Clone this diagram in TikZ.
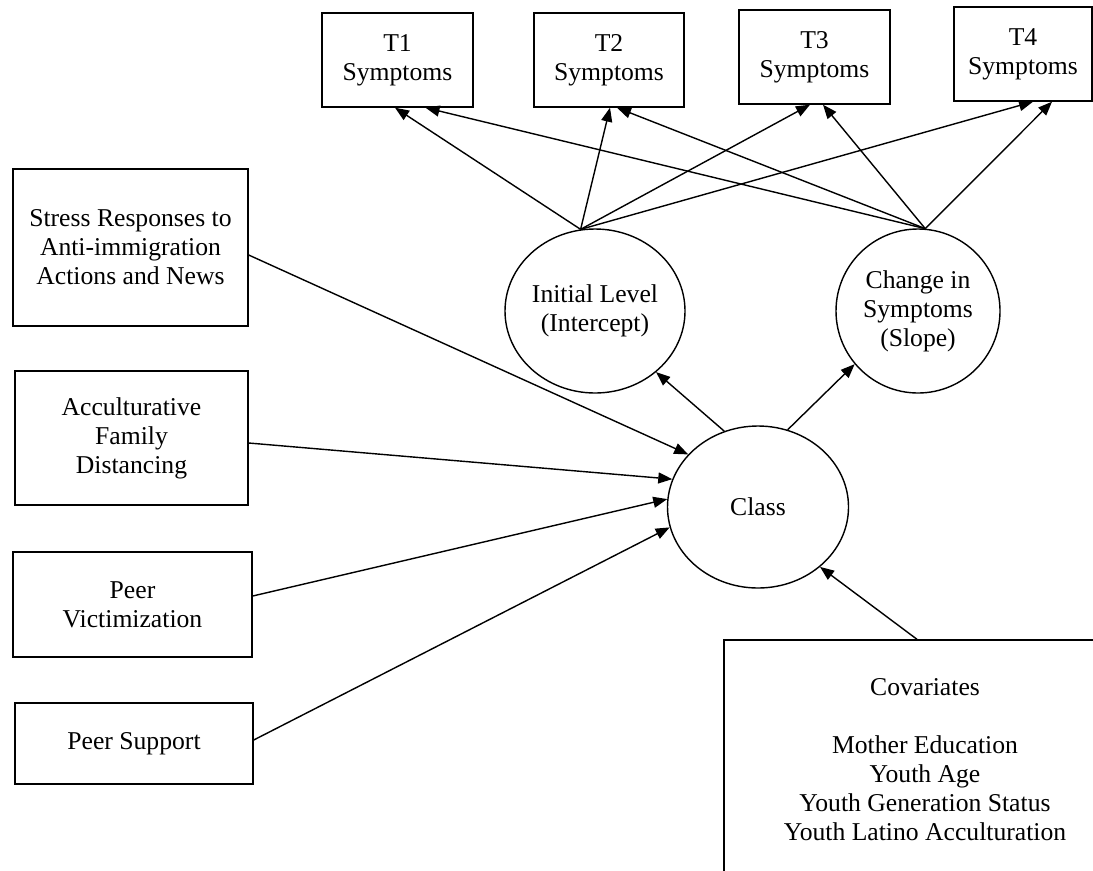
\documentclass[tikz,border=0pt]{standalone}
\usepackage{fontspec}
\setmainfont{Liberation Serif}
\usepackage{xcolor}
\usepackage{tikz}
\usetikzlibrary{arrows.meta,shapes.geometric}
\tikzset{
  sbox/.style={draw, line width=0.8pt, rectangle, align=center, inner sep=0pt, font=\fontsize{14.6}{16.5}\selectfont},
  latent/.style={draw, line width=0.8pt, ellipse, align=center, inner sep=0pt, font=\fontsize{14.6}{16.5}\selectfont},
  link/.style={line width=0.8pt, -{Triangle[length=0.28cm,width=0.22cm]}}
}

\begin{document}
\begin{tikzpicture}%
\useasboundingbox (0,0) rectangle (21.86,-17.40);%
% repeated measures
\node[sbox, minimum width=3.02cm, minimum height=1.88cm] (T1) at (7.95,-1.20) {T1\\Symptoms};%
\node[sbox, minimum width=3.00cm, minimum height=1.88cm] (T2) at (12.18,-1.20) {T2\\Symptoms};%
\node[sbox, minimum width=3.02cm, minimum height=1.88cm] (T3) at (16.29,-1.14) {T3\\Symptoms};%
\node[sbox, minimum width=2.76cm, minimum height=1.88cm] (T4) at (20.46,-1.08) {T4\\Symptoms};%
% growth factors and class
\node[latent, minimum width=3.60cm, minimum height=3.28cm] (init) at (11.90,-6.22) {Initial Level\\(Intercept)};%
\node[latent, minimum width=3.28cm, minimum height=3.28cm] (chg) at (18.36,-6.22) {Change in\\Symptoms\\(Slope)};%
\node[latent, minimum width=3.62cm, minimum height=3.24cm] (class) at (15.16,-10.14) {Class};%
% predictors
\node[sbox, minimum width=4.70cm, minimum height=3.14cm] (stress) at (2.61,-4.95) {Stress Responses to\\Anti-immigration\\Actions and News};%
\node[sbox, minimum width=4.66cm, minimum height=2.68cm] (afd) at (2.63,-8.76) {Acculturative\\Family\\Distancing};%
\node[sbox, minimum width=4.78cm, minimum height=2.10cm] (pv) at (2.65,-12.09) {Peer\\Victimization};%
\node[sbox, minimum width=4.76cm, minimum height=1.62cm] (ps) at (2.68,-14.87) {Peer Support};%
\node[sbox, minimum width=8.04cm, minimum height=4.80cm] (cov) at (18.50,-15.20) {Covariates\\[16.5pt]Mother Education\\Youth Age\\Youth Generation Status\\Youth Latino Acculturation};%
% loadings
\draw[link] (init.100) -- ([xshift=-0.05cm]T1.south);%
\draw[link] (init.100) -- ([xshift=0.02cm]T2.south);%
\draw[link] (init.100) -- ([xshift=-0.09cm]T3.south);%
\draw[link] (init.100) -- ([xshift=0.20cm]T4.south);%
\draw[link] (chg.85) -- ([xshift=0.56cm]T1.south);%
\draw[link] (chg.85) -- ([xshift=0.16cm]T2.south);%
\draw[link] (chg.85) -- ([xshift=0.17cm]T3.south);%
\draw[link] (chg.85) -- ([xshift=0.58cm]T4.south);%
% class paths
\draw[link] (class.114) -- (init.-45);%
\draw[link] (class.69) -- (chg.220);%
\draw[link] ([yshift=-0.15cm]stress.east) -- (class.143);%
\draw[link] ([yshift=-0.10cm]afd.east) -- (class.162);%
\draw[link] ([yshift=0.17cm]pv.east) -- (class.175);%
\draw[link] ([yshift=0.07cm]ps.east) -- (class.193);%
\draw[link] ([xshift=-0.16cm]cov.north) -- (class.-44);%
\end{tikzpicture}
\end{document}
